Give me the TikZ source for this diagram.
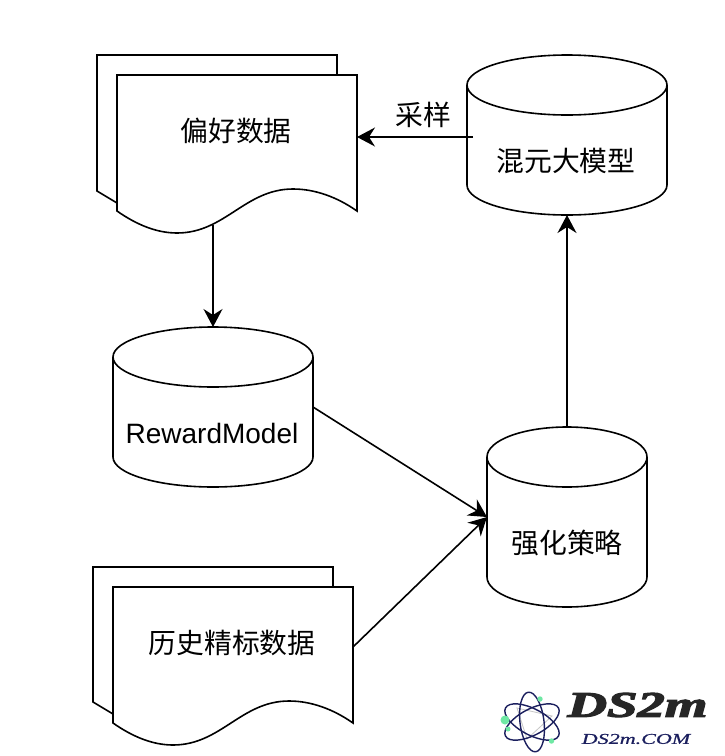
\documentclass[tikz,border=0pt]{standalone}
\usepackage{fontspec}
\setmainfont{Liberation Sans}
\newfontfamily\cjk{Noto Sans CJK SC}
\newfontfamily\logoheavy[UprightFont={* Bold Italic},RawFeature={embolden=3}]{Liberation Serif}
\newfontfamily\logolight[UprightFont={* Italic},RawFeature={embolden=0.6}]{Liberation Serif}
\usetikzlibrary{arrows.meta,calc}
\definecolor{navy}{HTML}{1B1F5E}
\definecolor{mint}{HTML}{6FE8A4}
\tikzset{
  x=1pt,y=-1pt,
  outline/.style={draw=black,line width=1.6pt,fill=white,line join=miter},
  arr/.style={draw=black,line width=1.6pt,-{Stealth[length=18pt,width=19pt,inset=6pt]}},
  boxhull/.style={rectangle,inner sep=0pt,outer sep=0pt},
  lab/.style={font=\cjk\fontsize{27.8}{30}\selectfont,text=black,inner sep=0pt},
  orbit/.style={draw=navy,line width=1.4pt},
  spoke/.style={draw=gray!45,line width=0.8pt},
  dot/.style={fill=mint,draw=none},
}
\begin{document}
\begin{tikzpicture}
\useasboundingbox[fill=white] (0,0) rectangle (724,756);
% documents
\path[outline] (97,55) -- (337,55) -- (337,100) -- (117,203) -- (97,191) -- cycle;
\path[outline] (117,75) -- (357,75) -- (357,211) .. controls (337,197) and (315,189) .. (293,189)
  .. controls (245,189) and (225,233) .. (177,233) .. controls (157,233) and (137,225) .. (117,211) -- cycle;
\path[outline] (93,567) -- (333,567) -- (333,610) -- (113,714) -- (93,702) -- cycle;
\path[outline] (113,587) -- (353,587) -- (353,723) .. controls (333,709) and (311,701) .. (289,701)
  .. controls (241,701) and (221,745) .. (173,745) .. controls (153,745) and (133,737) .. (113,723) -- cycle;
% cylinders
\path[outline] (467,85) arc[start angle=180,end angle=360,x radius=100,y radius=30] -- (667,185)
  arc[start angle=0,end angle=-180,x radius=100,y radius=-30] -- cycle;
\draw[outline,fill=none] (467,85) arc[start angle=180,end angle=360,x radius=100,y radius=-30];
\path[outline] (113,357) arc[start angle=180,end angle=360,x radius=100,y radius=30] -- (313,457)
  arc[start angle=0,end angle=-180,x radius=100,y radius=-30] -- cycle;
\draw[outline,fill=none] (113,357) arc[start angle=180,end angle=360,x radius=100,y radius=-30];
\path[outline] (487,457) arc[start angle=180,end angle=360,x radius=80,y radius=30] -- (647,577)
  arc[start angle=0,end angle=-180,x radius=80,y radius=-30] -- cycle;
\draw[outline,fill=none] (487,457) arc[start angle=180,end angle=360,x radius=80,y radius=-30];
% hulls used by the connectors
\node[boxhull,minimum width=240pt,minimum height=124pt] (pref) at (237,137) {};
\node[boxhull,minimum width=240pt,minimum height=120pt] (hist) at (233,647) {};
\node[boxhull,minimum width=200pt,minimum height=160pt] (mix) at (567,135) {};
\node[boxhull,minimum width=200pt,minimum height=160pt] (reward) at (213,407) {};
\node[boxhull,minimum width=160pt,minimum height=180pt] (strategy) at (567,517) {};
% labels
\node[lab] (preflab) at (236,131) {偏好数据};
\node[lab] (histlab) at (232,643) {历史精标数据};
\node[lab] (mixlab) at (566,161) {混元大模型};
\node[lab] (strategylab) at (567,543) {强化策略};
\node[lab] (samplelab) at (423,115) {采样};
\node[lab,font=\fontsize{28}{30}\selectfont] (rewardlab) at (212,433) {RewardModel};
% connectors
\draw[arr] ([shift={(6,2)}]mix.west) -- (pref.east);
\draw[arr] ([shift={(-24,26)}]pref.south) -- (reward.north);
\draw[arr] (reward.east) -- (strategy.west);
\draw[arr] (hist.east) -- (strategy.west);
\draw[arr] (strategy.north) -- (mix.south);
% logo
\coordinate (atom) at (532,722);
\draw[spoke] (517,708) -- (552,716) -- (527,739) -- cycle;
\draw[orbit,rotate around={28:(atom)}] (atom) ellipse [x radius=30,y radius=13];
\draw[orbit,rotate around={-28:(atom)}] (atom) ellipse [x radius=30,y radius=13];
\draw[orbit,rotate around={97:(atom)}] (atom) ellipse [x radius=30,y radius=12];
\fill[dot] (505,720) circle [radius=4.5];
\fill[dot] (508,729) circle [radius=2.5];
\fill[dot] (540,699) circle [radius=2.7];
\fill[dot] (551.5,741) circle [radius=2.7];
\node[inner sep=0pt,text=black!85,xscale=1.52,font=\logoheavy\fontsize{36}{36}\selectfont] (logomark) at (637.5,705) {DS2m};
\node[inner sep=0pt,text=navy,font=\logolight\fontsize{15}{15}\selectfont,xscale=1.47] (logourl) at (636,739) {DS2m.COM};
\end{tikzpicture}
\end{document}
